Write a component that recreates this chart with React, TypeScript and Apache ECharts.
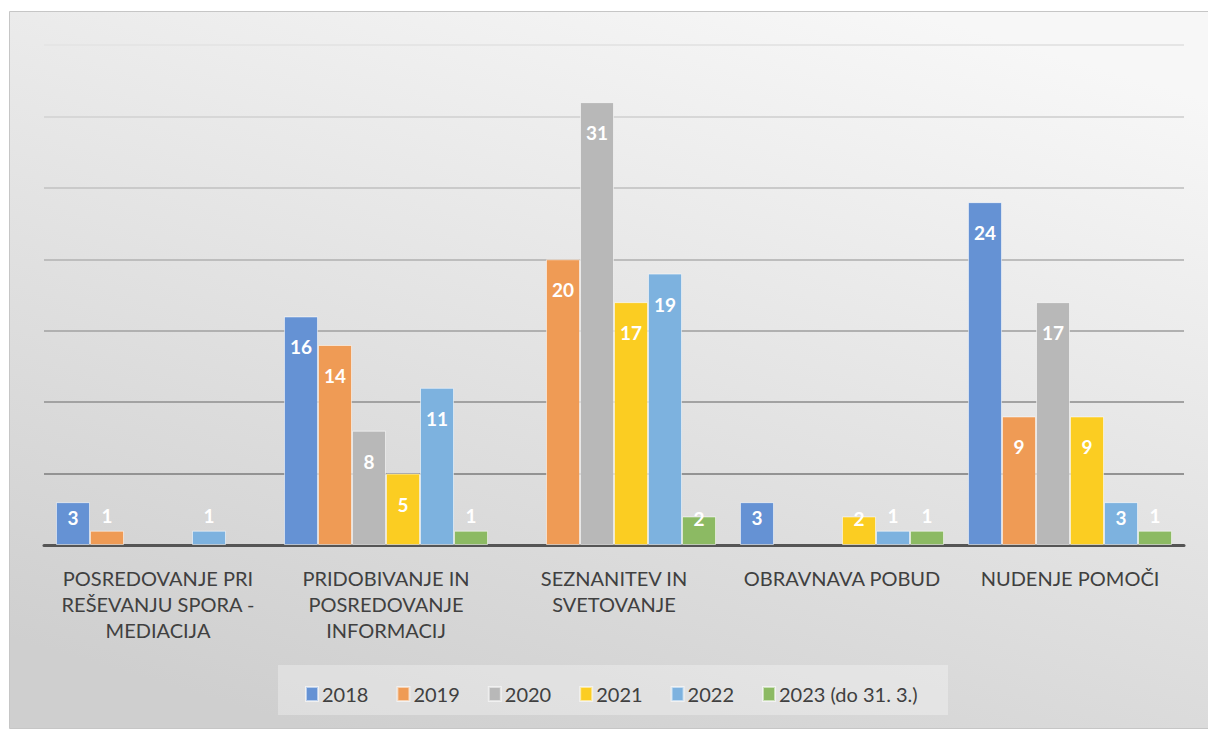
import React, { useEffect, useRef } from "react";
import * as echarts from "echarts";

const categories = [
  "POSREDOVANJE PRI\nREŠEVANJU SPORA -\nMEDIACIJA",
  "PRIDOBIVANJE IN\nPOSREDOVANJE\nINFORMACIJ",
  "SEZNANITEV IN\nSVETOVANJE",
  "OBRAVNAVA POBUD",
  "NUDENJE POMOČI",
];

const seriesNames = ["2018", "2019", "2020", "2021", "2022", "2023 (do 31. 3.)"];

const v2018 = [3, 16, null, 3, 24];
const v2019 = [1, 14, 20, null, 9];
const v2020 = [null, 8, 31, null, 17];
const v2021 = [null, 5, 17, 2, 9];
const v2022 = [1, 11, 19, 1, 3];
const v2023 = [null, 1, 2, 1, 1];

const seriesValues = [v2018, v2019, v2020, v2021, v2022, v2023];
const colors = ["#6592d4", "#ef9b55", "#b8b8b8", "#fbcd22", "#7db2df", "#8cba63"];

const FONT = "Lato, 'Noto Sans', sans-serif";

function labelDistance(v: number): number {
  if (v >= 4) return 21;
  if (v === 3) return 6;
  if (v === 2) return -7;
  return -25;
}

export default function App() {
  const ref = useRef<HTMLDivElement>(null);
  useEffect(() => {
    if (!ref.current) return;
    const chart = echarts.init(ref.current, null, { renderer: "svg" });
    const series = seriesNames.map((name, i) => ({
      name,
      type: "bar",
      barGap: "0%",
      barCategoryGap: "10.5%",
      itemStyle: {
        color: colors[i],
        borderColor: "rgba(255,255,255,0.55)",
        borderWidth: 1,
      },
      label: {
        show: true,
        position: "insideTop",
        color: "#ffffff",
        fontFamily: FONT,
        fontWeight: "bold",
        fontSize: 19,
      },
      data: seriesValues[i].map((v) =>
        v === null
          ? null
          : { value: v, label: { distance: labelDistance(v) } }
      ),
    }));
    chart.setOption({
      animation: false,
      color: colors,
      textStyle: { fontFamily: FONT },
      graphic: [
        {
          type: "rect",
          z: -10,
          silent: true,
          shape: { x: 9.5, y: 11.5, width: 1205, height: 717 },
          style: {
            fill: new echarts.graphic.LinearGradient(0.75, 0, 0.25, 1, [
              { offset: 0, color: "#f7f7f7" },
              { offset: 1, color: "#cfcfcf" },
            ]),
            stroke: "#c6c6c6",
            lineWidth: 1,
          },
        },
        {
          type: "rect",
          z: -9,
          silent: true,
          shape: { x: 278, y: 665, width: 670, height: 50 },
          style: { fill: "rgba(255,255,255,0.3)" },
        },
      ],
      legend: {
        data: seriesNames,
        left: 300,
        top: 679,
        itemWidth: 12,
        itemHeight: 14,
        itemGap: 28,
        icon: "rect",
        textStyle: { color: "#404040", fontSize: 20, fontFamily: FONT, padding: [0, 0, 0, -1] },
      },
      grid: { left: 44, right: 24, top: 45, bottom: 185, containLabel: false },
      xAxis: {
        type: "category",
        data: categories,
        axisTick: { show: false },
        axisLine: { lineStyle: { color: "#555555", width: 3 } },
        axisLabel: {
          color: "#404040",
          fontSize: 20,
          fontFamily: FONT,
          lineHeight: 26,
          margin: 20,
          interval: 0,
        },
        splitLine: { show: false },
      },
      yAxis: {
        type: "value",
        min: 0,
        max: 35,
        interval: 5,
        axisLabel: { show: false },
        axisLine: { show: false },
        axisTick: { show: false },
        splitLine: {
          lineStyle: {
            width: 2,
            color: [
              "#888888",
              "#939393",
              "#a2a2a2",
              "#b0b0b0",
              "#bdbdbd",
              "#cacaca",
              "#d7d7d7",
              "#e5e5e5",
            ],
          },
        },
      },
      series,
    });
    return () => chart.dispose();
  }, []);
  return (
    <div
      ref={ref}
      style={{ position: "fixed", left: 0, top: 0, width: 1208, height: 730, background: "#ffffff" }}
    />
  );
}
